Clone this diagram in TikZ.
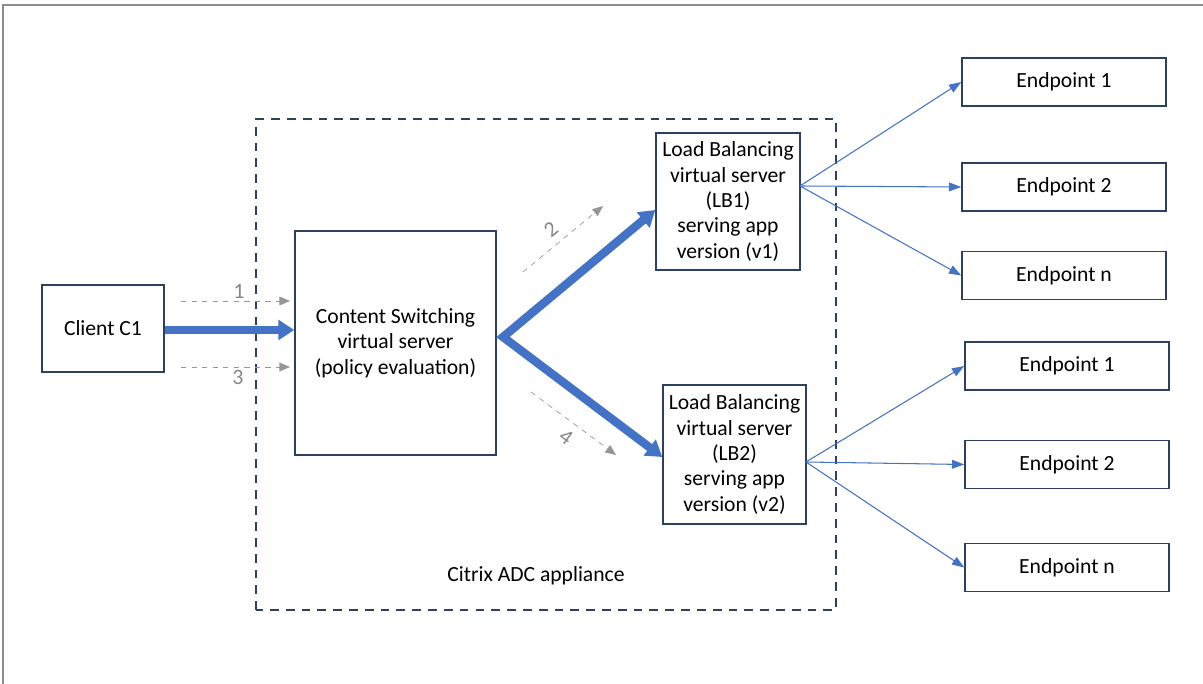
\documentclass[tikz,border=0pt]{standalone}
\usepackage{fontspec}
\setmainfont{Carlito}
\usepackage{tikz}
\usetikzlibrary{arrows.meta,positioning,calc}
\definecolor{boxnavy}{RGB}{47,64,95}
\definecolor{flowblue}{RGB}{68,114,196}
\definecolor{stepgray}{RGB}{150,150,150}
\definecolor{framegray}{RGB}{140,140,140}

\begin{document}
\begin{tikzpicture}[
    server/.style={draw=boxnavy, thick, fill=white, align=center, font=\fontsize{12.3}{14.5}\selectfont, inner sep=2pt},
    endpt/.style={draw=boxnavy, thick, fill=white, minimum width=4.08cm, minimum height=0.96cm, font=\fontsize{12.3}{14.5}\selectfont},
    appliance/.style={draw=boxnavy, thick, dash pattern=on 5pt off 4pt},
    bigflow/.style={draw=flowblue, line width=4.8pt, line join=miter, -{Triangle[length=9pt,width=11pt]}},
    fanout/.style={draw=flowblue, semithick, -{Triangle[length=7pt,width=5pt]}},
    stepflow/.style={draw=stepgray, thin, dashed, -{Triangle[length=6pt,width=5pt]}},
    steplabel/.style={text=stepgray!90!black, font=\fontsize{12.5}{14}\selectfont}
]
\useasboundingbox (0,0) rectangle (24.06,13.68);

% Outer frame (top and left edges only)
\draw[framegray, thick] (0.06,0) -- (0.06,13.58) -- (24.06,13.58);

% Citrix ADC appliance boundary
\draw[appliance] (5.12,1.48) rectangle (16.72,11.3);
\node[font=\fontsize{12.3}{14.5}\selectfont] (adc) at (10.72,2.16) {Citrix ADC appliance};

% Client and virtual servers
\node[server, minimum width=2.44cm, minimum height=1.74cm] (client) at (2.06,7.11) {Client C1};
\node[server, minimum width=4.02cm, minimum height=4.48cm] (cs) at (7.91,6.82) {Content Switching\\virtual server\\(policy evaluation)};
\node[server, minimum width=2.88cm, minimum height=2.74cm] (lb1) at (14.56,9.65) {Load Balancing\\virtual server\\(LB1)\\serving app\\version (v1)};
\node[server, minimum width=2.86cm, minimum height=2.78cm] (lb2) at (14.69,4.59) {Load Balancing\\virtual server\\(LB2)\\serving app\\version (v2)};

% Endpoints behind LB1
\node[endpt] (ep11) at (21.28,12.04) {Endpoint 1};
\node[endpt] (ep12) at (21.28,9.94) {Endpoint 2};
\node[endpt] (ep1n) at (21.28,8.17) {Endpoint n};
% Endpoints behind LB2
\node[endpt] (ep21) at (21.34,6.36) {Endpoint 1};
\node[endpt] (ep22) at (21.34,4.39) {Endpoint 2};
\node[endpt] (ep2n) at (21.34,2.33) {Endpoint n};

% Main request flow
\coordinate (split) at (10.06,6.94);
\draw[bigflow] (client.east |- 0,7.08) -- (cs.west |- 0,7.08);
\draw[bigflow, {Triangle[length=9pt,width=11pt]}-{Triangle[length=9pt,width=11pt]}] ($(lb1.west)+(0,-0.17)$) -- (split) -- ($(lb2.west)+(0,-0.05)$);

% Load balancing to endpoints
\coordinate (lb1fan) at (16.0,9.96);
\coordinate (lb2fan) at (16.12,4.44);
\foreach \ep in {ep11,ep12,ep1n}
  \draw[fanout] (lb1fan) -- (\ep.west);
\foreach \ep in {ep21,ep22,ep2n}
  \draw[fanout] (lb2fan) -- (\ep.west);

% Numbered steps
\coordinate (s1a) at (3.62,7.66); \coordinate (s1b) at (5.8,7.66);
\coordinate (s3a) at (3.62,6.34); \coordinate (s3b) at (5.8,6.34);
\coordinate (s2a) at (10.46,8.24); \coordinate (s2b) at (12.06,9.56);
\coordinate (s4a) at (10.62,5.84); \coordinate (s4b) at (12.32,4.58);
\draw[stepflow] (s1a) -- (s1b);
\draw[stepflow] (s3a) -- (s3b);
\draw[stepflow] (s2a) -- (s2b);
\draw[stepflow] (s4a) -- (s4b);
\node[steplabel] (n1) at (4.78,7.86) {1};
\node[steplabel] (n3) at (4.76,6.14) {3};
\node[steplabel, rotate=39.5] (n2) at (11.02,9.1) {2};
\node[steplabel, rotate=-36.5] (n4) at (11.32,4.94) {4};

\end{tikzpicture}
\end{document}
